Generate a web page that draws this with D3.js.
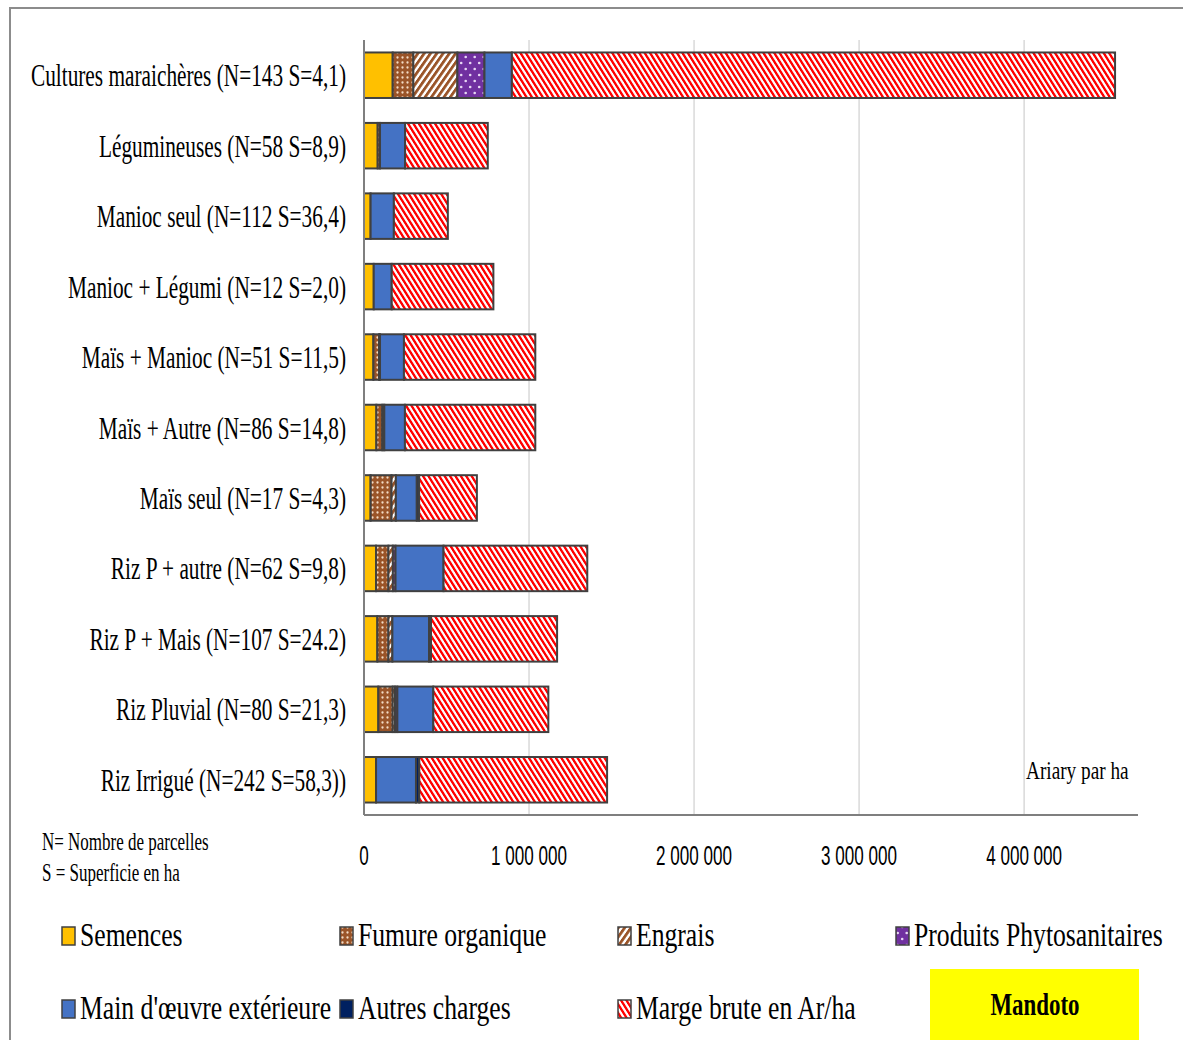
<!DOCTYPE html>
<html lang="fr">
<head>
<meta charset="utf-8">
<script src="https://cdn.jsdelivr.net/npm/d3@7"></script>
<style>
  html, body { margin: 0; padding: 0; background: #fff; }
  svg { display: block; }
</style>
</head>
<body>
<svg id="chart" width="1183" height="1040"></svg>
<script>
// Cost structure and gross margin per hectare, by cropping system (Ariary / ha)
const categories = [
  "Cultures maraichères (N=143 S=4,1)",
  "Légumineuses (N=58 S=8,9)",
  "Manioc seul (N=112 S=36,4)",
  "Manioc + Légumi (N=12 S=2,0)",
  "Maïs + Manioc (N=51 S=11,5)",
  "Maïs + Autre (N=86 S=14,8)",
  "Maïs seul (N=17 S=4,3)",
  "Riz P + autre (N=62 S=9,8)",
  "Riz P + Mais (N=107 S=24.2)",
  "Riz Pluvial (N=80 S=21,3)",
  "Riz Irrigué (N=242 S=58,3))"
];

const seriesNames = [
  "Semences",
  "Fumure organique",
  "Engrais",
  "Produits Phytosanitaires",
  "Main d'œuvre extérieure",
  "Autres charges",
  "Marge brute en Ar/ha"
];

const semences    = [174000, 83000, 40000, 59000, 57000, 75000, 40000, 73000, 81000, 87000, 73000];
const fumure      = [125000, 14000, 0, 0, 34000, 36000, 127000, 75000, 67000, 87000, 0];
const engrais     = [267000, 0, 0, 0, 6000, 12000, 26000, 27000, 24000, 14000, 0];
const phyto       = [164000, 0, 0, 0, 0, 0, 0, 16000, 0, 14000, 0];
const mainOeuvre  = [166000, 152000, 141000, 109000, 145000, 125000, 127000, 291000, 222000, 218000, 242000];
const autres      = [0, 0, 0, 0, 0, 0, 14000, 0, 12000, 0, 20000];
const margeBrute  = [3655000, 501000, 327000, 616000, 796000, 790000, 350000, 871000, 764000, 697000, 1138000];

const tickValues = [0, 1000000, 2000000, 3000000, 4000000];
const tickLabels = ["0", "1 000 000", "2 000 000", "3 000 000", "4 000 000"];

const seriesValues = [semences, fumure, engrais, phyto, mainOeuvre, autres, margeBrute];

// Rows for d3.stack
const rows = categories.map((c, i) => {
  const r = { category: c };
  seriesNames.forEach((s, k) => { r[s] = seriesValues[k][i]; });
  return r;
});

const svg = d3.select("#chart");
const defs = svg.append("defs");

// Fill patterns
function stripePattern(id, bg, fg, period, fgWidth, skew) {
  const p = defs.append("pattern")
    .attr("id", id)
    .attr("patternUnits", "userSpaceOnUse")
    .attr("width", period).attr("height", 40)
    .attr("patternTransform", `skewX(${skew})`);
  p.append("rect").attr("width", period).attr("height", 40).attr("fill", bg);
  p.append("rect").attr("x", 0).attr("width", fgWidth).attr("height", 40).attr("fill", fg);
}
function dotPattern(id, bg, fg, w, h, dots, r) {
  const p = defs.append("pattern")
    .attr("id", id)
    .attr("patternUnits", "userSpaceOnUse")
    .attr("width", w).attr("height", h);
  p.append("rect").attr("width", w).attr("height", h).attr("fill", bg);
  dots.forEach(([cx, cy]) => p.append("circle").attr("cx", cx).attr("cy", cy).attr("r", r).attr("fill", fg));
}

dotPattern("pat-fumure", "#9a5428", "#f3dcc6", 5, 5, [[2.5, 2.5]], 1.15);
stripePattern("pat-engrais", "#ffffff", "#9a5428", 6.3, 3.4, -35);
dotPattern("pat-phyto", "#7030a0", "#e8d8f4", 9, 12, [[2.2, 3], [6.7, 9]], 1.3);
stripePattern("pat-marge", "#ffffff", "#ff0000", 5.4, 2.8, 32);

const fills = {
  "Semences": "#ffc000",
  "Fumure organique": "url(#pat-fumure)",
  "Engrais": "url(#pat-engrais)",
  "Produits Phytosanitaires": "url(#pat-phyto)",
  "Main d'œuvre extérieure": "#4472c4",
  "Autres charges": "#002060",
  "Marge brute en Ar/ha": "url(#pat-marge)"
};

// Outer frame
svg.append("rect")
  .attr("x", 10).attr("y", 8).attr("width", 1200).attr("height", 1100)
  .attr("fill", "none").attr("stroke", "#8c8c8c").attr("stroke-width", 2);

// Scales
const x = d3.scaleLinear().domain([0, 4690000]).range([364, 1138]);
const y = d3.scaleBand().domain(categories).range([40, 815]).paddingInner(0.354).paddingOuter(0.177);

// Gridlines
svg.append("g").selectAll("line")
  .data(tickValues.filter(v => v > 0))
  .join("line")
  .attr("x1", d => x(d)).attr("x2", d => x(d))
  .attr("y1", 40).attr("y2", 815)
  .attr("stroke", "#d9d9d9").attr("stroke-width", 1.5);

// Stacked bars
const stacked = d3.stack().keys(seriesNames)(rows);
const gBars = svg.append("g");
stacked.forEach(layer => {
  gBars.append("g")
    .attr("fill", fills[layer.key])
    .selectAll("rect")
    .data(layer.filter(d => d[1] - d[0] > 0))
    .join("rect")
    .attr("x", d => x(d[0]))
    .attr("width", d => x(d[1]) - x(d[0]))
    .attr("y", d => y(d.data.category))
    .attr("height", y.bandwidth())
    .attr("stroke", "#404040")
    .attr("stroke-width", 2);
});

// Axis lines
svg.append("line").attr("x1", 364).attr("x2", 364).attr("y1", 40).attr("y2", 815)
  .attr("stroke", "#7f7f7f").attr("stroke-width", 2);
svg.append("line").attr("x1", 364).attr("x2", 1138).attr("y1", 815).attr("y2", 815)
  .attr("stroke", "#7f7f7f").attr("stroke-width", 2);

// Horizontally condensed text helper
function squeezed(parent, tx, ty, str, o) {
  const t = parent.append("text")
    .attr("transform", `translate(${tx},${ty}) scale(${o.sx},1)`)
    .attr("font-family", o.family || "'Liberation Serif', 'Times New Roman', serif")
    .attr("font-size", o.size)
    .attr("font-weight", o.weight || "normal")
    .attr("text-anchor", o.anchor || "start")
    .attr("fill", o.fill || "#000")
    .text(str);
  return t;
}

// Category labels
const gLabels = svg.append("g");
categories.forEach(c => {
  squeezed(gLabels, 346, y(c) + y.bandwidth() / 2 + 11, c, { size: 32, sx: 0.666, anchor: "end" });
});

// X tick labels
const gTicks = svg.append("g");
tickValues.forEach((v, i) => {
  squeezed(gTicks, x(v), 865, tickLabels[i], {
    size: 28, sx: 0.61, anchor: "middle",
    family: "'Liberation Sans', Arial, sans-serif"
  });
});

// Unit
squeezed(svg, 1026, 779, "Ariary par ha", { size: 25, sx: 0.77 });

// Notes
squeezed(svg, 42, 850, "N= Nombre de parcelles", { size: 25, sx: 0.68 });
squeezed(svg, 42, 881, "S = Superficie en ha", { size: 25, sx: 0.68 });

// Legend
const legendPos = [
  [62, 927], [340, 927], [618, 927], [896, 927],
  [62, 1000], [340, 1000], [618, 1000]
];
const gLegend = svg.append("g");
seriesNames.forEach((s, i) => {
  const [lx, ly] = legendPos[i];
  gLegend.append("rect")
    .attr("x", lx).attr("y", ly).attr("width", 13).attr("height", 18)
    .attr("fill", fills[s]).attr("stroke", "#404040").attr("stroke-width", 1.5);
  squeezed(gLegend, lx + 18, ly + 19, s, { size: 34, sx: 0.755 });
});

// Site label
svg.append("rect").attr("x", 930).attr("y", 969).attr("width", 209).attr("height", 80)
  .attr("fill", "#ffff00");
squeezed(svg, 1035, 1015, "Mandoto", { size: 31, sx: 0.74, weight: "bold", anchor: "middle" });
</script>
</body>
</html>
